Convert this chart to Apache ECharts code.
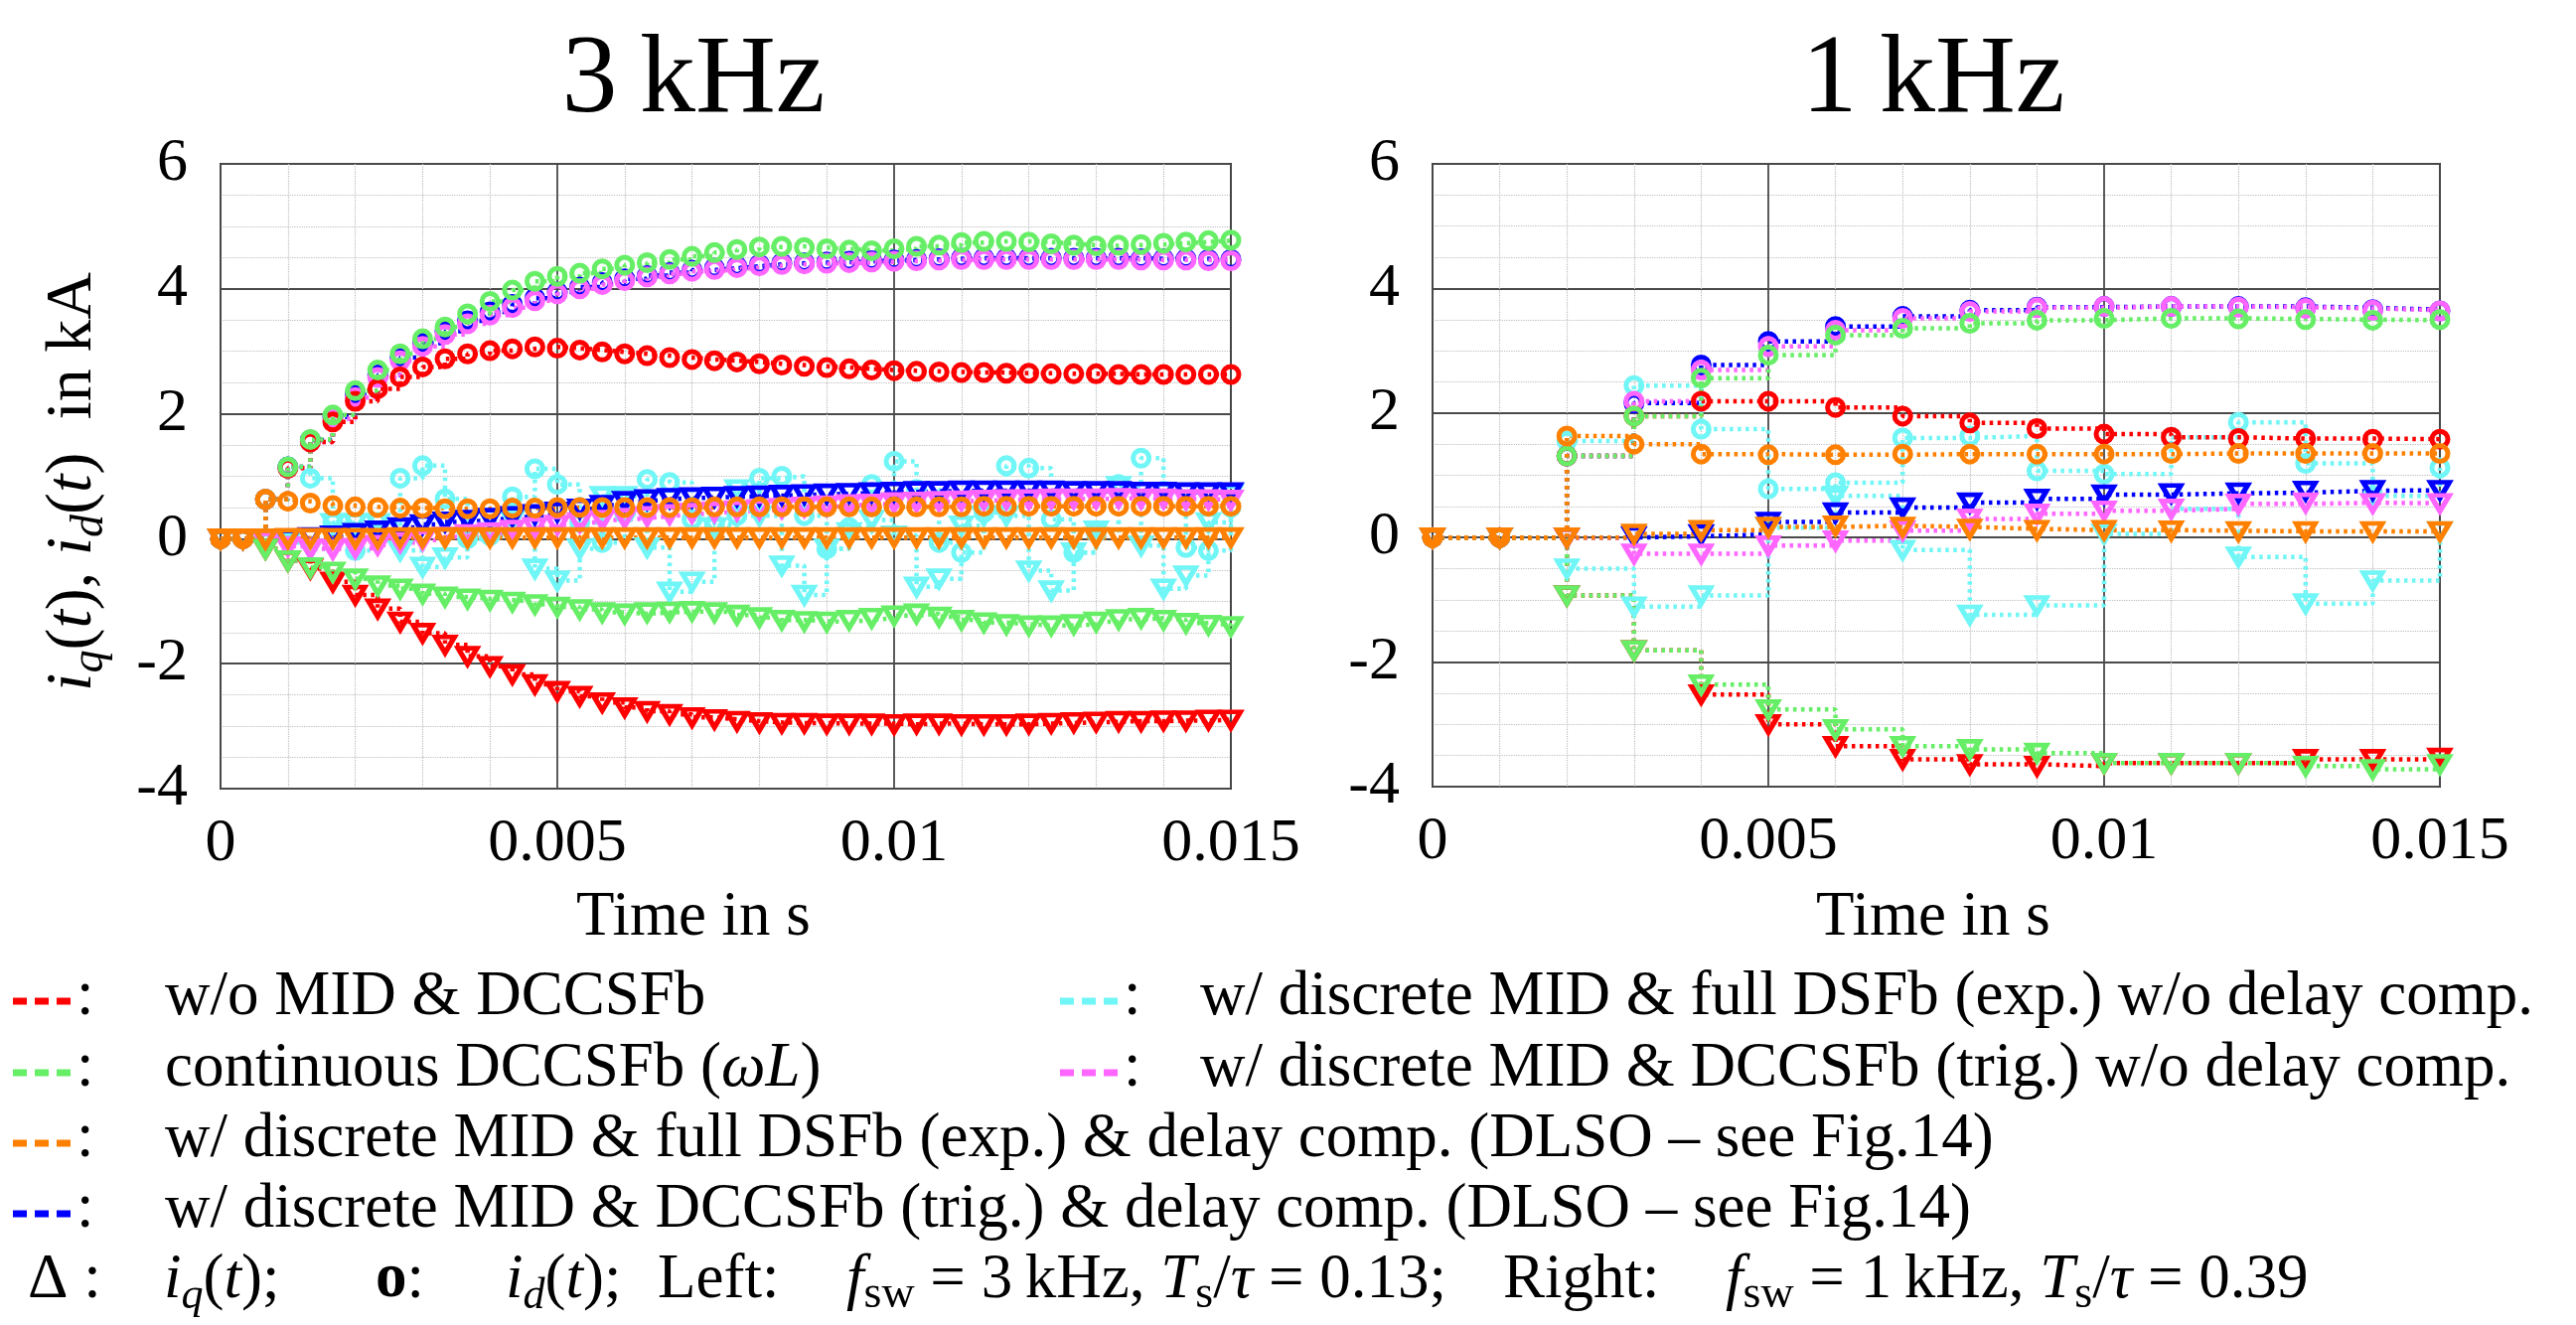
<!DOCTYPE html>
<html>
<head>
<meta charset="utf-8">
<title>i_q / i_d step responses, 3 kHz vs 1 kHz</title>
<script src="https://cdn.jsdelivr.net/npm/echarts@6.0.0/dist/echarts.min.js"></script>
<style>
  html, body { margin: 0; padding: 0; background: #fff; }
  #chart { width: 2593px; height: 1334px; }
</style>
</head>
<body>
<div id="chart"></div>
<script>
// sample instants in s (left: fsw = 3 kHz, right: fsw = 1 kHz)
const timeLeft = [0, 0.000333, 0.000667, 0.001, 0.001333, 0.001667, 0.002, 0.002333, 0.002667, 0.003,
  0.003333, 0.003667, 0.004, 0.004333, 0.004667, 0.005, 0.005333, 0.005667, 0.006, 0.006333,
  0.006667, 0.007, 0.007333, 0.007667, 0.008, 0.008333, 0.008667, 0.009, 0.009333, 0.009667,
  0.01, 0.010333, 0.010667, 0.011, 0.011333, 0.011667, 0.012, 0.012333, 0.012667, 0.013,
  0.013333, 0.013667, 0.014, 0.014333, 0.014667, 0.015];
const timeRight = [0, 0.001, 0.002, 0.003, 0.004, 0.005, 0.006, 0.007, 0.008, 0.009, 0.01, 0.011, 0.012, 0.013, 0.014, 0.015];

const xTicks = [0, 0.005, 0.01, 0.015];
const yTicks = [-4, -2, 0, 2, 4, 6];

// ---- 3 kHz, values in kA ----
const redIdL = [0, 0, 0.63, 1.13, 1.55, 1.87, 2.2, 2.4, 2.59, 2.75,
  2.88, 2.96, 3.01, 3.04, 3.07, 3.05, 3.02, 2.99, 2.96, 2.93,
  2.9, 2.87, 2.85, 2.83, 2.8, 2.78, 2.76, 2.74, 2.72, 2.7,
  2.69, 2.68, 2.67, 2.66, 2.66, 2.65, 2.65, 2.64, 2.64, 2.64,
  2.63, 2.63, 2.63, 2.63, 2.63, 2.63];
const redIqL = [0, 0, -0.16, -0.35, -0.48, -0.69, -0.9, -1.12, -1.33, -1.51,
  -1.7, -1.88, -2.04, -2.17, -2.33, -2.44, -2.52, -2.62, -2.7, -2.76,
  -2.81, -2.86, -2.89, -2.92, -2.94, -2.95, -2.95, -2.96, -2.96, -2.96,
  -2.97, -2.96, -2.96, -2.97, -2.97, -2.97, -2.96, -2.95, -2.94, -2.93,
  -2.92, -2.92, -2.91, -2.91, -2.9, -2.9];
const greenIdL = [0, 0, 0.63, 1.15, 1.59, 1.98, 2.37, 2.7, 2.96, 3.2,
  3.39, 3.6, 3.8, 3.98, 4.12, 4.2, 4.25, 4.32, 4.38, 4.42,
  4.47, 4.52, 4.58, 4.63, 4.67, 4.68, 4.66, 4.64, 4.62, 4.61,
  4.64, 4.68, 4.7, 4.74, 4.76, 4.76, 4.75, 4.72, 4.7, 4.69,
  4.7, 4.71, 4.73, 4.75, 4.77, 4.78];
const greenIqL = [0, 0, -0.16, -0.35, -0.46, -0.53, -0.64, -0.75, -0.8, -0.88,
  -0.93, -0.96, -0.98, -1.01, -1.05, -1.09, -1.13, -1.18, -1.2, -1.18,
  -1.17, -1.16, -1.18, -1.22, -1.26, -1.3, -1.32, -1.33, -1.3, -1.27,
  -1.23, -1.2, -1.25, -1.3, -1.34, -1.37, -1.39, -1.39, -1.37, -1.33,
  -1.29, -1.27, -1.3, -1.35, -1.38, -1.4];
const orangeIdL = [0, 0, 0.63, 0.6, 0.57, 0.53, 0.51, 0.5, 0.49, 0.49,
  0.48, 0.48, 0.48, 0.49, 0.49, 0.5, 0.5, 0.5, 0.5, 0.5,
  0.5, 0.5, 0.51, 0.51, 0.51, 0.51, 0.51, 0.51, 0.51, 0.51,
  0.51, 0.51, 0.51, 0.51, 0.52, 0.52, 0.52, 0.52, 0.52, 0.52,
  0.52, 0.52, 0.52, 0.52, 0.52, 0.52];
const orangeIqL = [0, 0, 0, 0.01, 0.01, 0.01, 0.01, 0.01, 0.02, 0.02,
  0.02, 0.02, 0.02, 0.02, 0.02, 0.02, 0.02, 0.02, 0.02, 0.02,
  0.02, 0.02, 0.02, 0.02, 0.02, 0.02, 0.02, 0.02, 0.02, 0.02,
  0.02, 0.02, 0.02, 0.02, 0.02, 0.02, 0.02, 0.02, 0.02, 0.02,
  0.02, 0.02, 0.02, 0.02, 0.02, 0.02];
const blueIdL = [0, 0, 0.63, 1.15, 1.58, 1.95, 2.3, 2.62, 2.9, 3.13,
  3.32, 3.49, 3.63, 3.75, 3.85, 3.95, 4.03, 4.1, 4.16, 4.21,
  4.26, 4.3, 4.33, 4.36, 4.39, 4.41, 4.42, 4.43, 4.44, 4.45,
  4.46, 4.47, 4.48, 4.49, 4.49, 4.49, 4.49, 4.49, 4.49, 4.49,
  4.49, 4.48, 4.48, 4.48, 4.47, 4.47];
const blueIqL = [0, 0, 0, 0, 0.02, 0.05, 0.09, 0.13, 0.18, 0.23,
  0.27, 0.3, 0.33, 0.36, 0.39, 0.43, 0.48, 0.54, 0.6, 0.63,
  0.65, 0.66, 0.67, 0.68, 0.69, 0.7, 0.71, 0.72, 0.73, 0.74,
  0.75, 0.76, 0.76, 0.77, 0.77, 0.77, 0.77, 0.77, 0.76, 0.76,
  0.76, 0.75, 0.75, 0.74, 0.74, 0.74];
const cyanIdL = [0, 0, 0.63, 1.15, 0.97, 0.26, -0.19, 0.26, 0.97, 1.17,
  0.64, 0.0, 0.05, 0.67, 1.12, 0.87, 0.26, -0.06, 0.4, 0.95,
  0.9, 0.31, 0.23, 0.37, 0.97, 1.0, 0.37, -0.16, 0.18, 0.87,
  1.24, 0.79, -0.06, -0.22, 0.42, 1.17, 1.13, 0.31, -0.22, 0.1,
  0.87, 1.29, 0.76, -0.14, -0.19, 0.5];
const cyanIqL = [0, 0, -0.06, -0.06, -0.16, 0.25, 0.25, 0.25, -0.19, -0.45,
  -0.3, 0.0, 0.1, 0.3, -0.48, -0.67, -0.16, 0.68, 0.68, -0.14,
  -0.85, -0.69, 0.18, 0.79, 0.37, -0.43, -0.9, -0.16, 0.1, 0.3,
  0.05, -0.77, -0.64, 0.21, 0.37, 0.37, -0.51, -0.83, -0.22, 0.13,
  0.84, -0.11, -0.8, -0.59, 0.26, 0.71];
const magentaIdL = [0, 0, 0.63, 1.13, 1.55, 1.92, 2.26, 2.58, 2.85, 3.08,
  3.27, 3.44, 3.58, 3.7, 3.81, 3.92, 4.0, 4.07, 4.13, 4.19,
  4.24, 4.28, 4.31, 4.34, 4.37, 4.39, 4.4, 4.41, 4.42, 4.43,
  4.44, 4.45, 4.46, 4.47, 4.47, 4.47, 4.47, 4.47, 4.47, 4.47,
  4.47, 4.46, 4.46, 4.46, 4.45, 4.45];
const magentaIqL = [0, 0, -0.05, -0.12, -0.16, -0.17, -0.15, -0.1, -0.06, -0.02,
  0.03, 0.07, 0.1, 0.14, 0.18, 0.22, 0.26, 0.3, 0.33, 0.36,
  0.39, 0.41, 0.43, 0.45, 0.47, 0.49, 0.51, 0.53, 0.55, 0.56,
  0.58, 0.59, 0.6, 0.61, 0.62, 0.63, 0.63, 0.64, 0.64, 0.64,
  0.65, 0.64, 0.64, 0.63, 0.63, 0.62];

// ---- 1 kHz, values in kA ----
const redIdR = [0, 0, 1.31, 1.95, 2.19, 2.19, 2.09, 1.95, 1.84, 1.75, 1.66, 1.61, 1.59, 1.59, 1.58, 1.58];
const redIqR = [0, 0, -0.93, -1.81, -2.52, -3.0, -3.35, -3.56, -3.64, -3.67, -3.62, -3.62, -3.62, -3.56, -3.56, -3.54];
const greenIdR = [0, 0, 1.31, 1.95, 2.56, 2.93, 3.25, 3.36, 3.44, 3.49, 3.52, 3.52, 3.51, 3.5, 3.49, 3.5];
const greenIqR = [0, 0, -0.93, -1.81, -2.36, -2.76, -3.08, -3.35, -3.4, -3.46, -3.62, -3.62, -3.62, -3.67, -3.72, -3.64];
const orangeIdR = [0, 0, 1.63, 1.5, 1.34, 1.33, 1.33, 1.34, 1.34, 1.34, 1.34, 1.35, 1.35, 1.35, 1.35, 1.35];
const orangeIqR = [0, 0, 0, 0.06, 0.12, 0.17, 0.19, 0.17, 0.14, 0.12, 0.12, 0.11, 0.1, 0.1, 0.1, 0.1];
const blueIdR = [0, 0, 1.31, 2.16, 2.77, 3.15, 3.39, 3.55, 3.65, 3.7, 3.71, 3.71, 3.71, 3.69, 3.66, 3.64];
const blueIqR = [0, 0, 0, 0.02, 0.05, 0.25, 0.4, 0.48, 0.56, 0.62, 0.69, 0.71, 0.72, 0.75, 0.76, 0.76];
const cyanIdR = [0, 0, 1.55, 2.44, 1.74, 0.78, 0.88, 1.6, 1.63, 1.07, 1.02, 1.61, 1.85, 1.19, 0.67, 1.12];
const cyanIqR = [0, 0, -0.5, -1.11, -0.93, 0.16, 0.67, -0.2, -1.24, -1.09, 0.06, 0.46, -0.31, -1.06, -0.69, 0.1];
const magentaIdR = [0, 0, 1.31, 2.19, 2.69, 3.07, 3.33, 3.52, 3.63, 3.69, 3.71, 3.71, 3.7, 3.68, 3.65, 3.64];
const magentaIqR = [0, 0, 0, -0.26, -0.26, -0.13, -0.05, 0.11, 0.3, 0.38, 0.43, 0.46, 0.54, 0.56, 0.55, 0.55];

const COLORS = {
  red: '#ff0000', green: '#66ee66', orange: '#ff8000',
  blue: '#0000ff', cyan: '#70f6f6', magenta: '#ff66ff'
};
const FONT = "'Liberation Serif', 'Times New Roman', serif";

// draw order: later ones on top
const leftSets = [
  ['cyan', cyanIdL, cyanIqL], ['blue', blueIdL, blueIqL], ['magenta', magentaIdL, magentaIqL],
  ['red', redIdL, redIqL], ['green', greenIdL, greenIqL], ['orange', orangeIdL, orangeIqL]
];
const rightSets = [
  ['cyan', cyanIdR, cyanIqR], ['blue', blueIdR, blueIqR], ['magenta', magentaIdR, magentaIqR],
  ['red', redIdR, redIqR], ['green', greenIdR, greenIqR], ['orange', orangeIdR, orangeIqR]
];

function stepSeries(gi, times, vals, color, isIq) {
  return {
    type: 'line',
    xAxisIndex: gi,
    yAxisIndex: gi,
    data: times.map((t, k) => [t, vals[k]]),
    step: 'end',
    symbol: isIq ? 'triangle' : 'circle',
    symbolRotate: isIq ? 180 : 0,
    symbolSize: isIq ? [19, 16] : 16,
    showAllSymbol: true,
    silent: true,
    lineStyle: { color: color, width: 4.5, type: [3.5, 4.5], cap: 'butt' },
    itemStyle: { color: 'rgba(255,255,255,0)', borderColor: color, borderWidth: 5 },
    emphasis: { disabled: true }
  };
}

const series = [];
leftSets.forEach(s => {
  series.push(stepSeries(0, timeLeft, s[2], COLORS[s[0]], true));
  series.push(stepSeries(0, timeLeft, s[1], COLORS[s[0]], false));
});
rightSets.forEach(s => {
  series.push(stepSeries(1, timeRight, s[2], COLORS[s[0]], true));
  series.push(stepSeries(1, timeRight, s[1], COLORS[s[0]], false));
});

function xAx(gi) {
  return {
    type: 'value', gridIndex: gi,
    min: xTicks[0], max: xTicks[xTicks.length - 1], interval: xTicks[1] - xTicks[0],
    axisLine: { show: false }, axisTick: { show: false },
    axisLabel: { fontSize: 62, fontFamily: FONT, color: '#000', margin: 25 },
    splitLine: { show: true, lineStyle: { color: '#4a4a4a', width: 1.8 } },
    minorTick: { show: false, splitNumber: 5 },
    minorSplitLine: { show: true, lineStyle: { color: '#bdbdbd', width: 1.2, type: 'dotted' } }
  };
}
function yAx(gi) {
  return {
    type: 'value', gridIndex: gi,
    min: yTicks[0], max: yTicks[yTicks.length - 1], interval: yTicks[1] - yTicks[0],
    axisLine: { show: false }, axisTick: { show: false },
    axisLabel: { fontSize: 62, fontFamily: FONT, color: '#000', margin: 33 },
    splitLine: { show: true, lineStyle: { color: '#4a4a4a', width: 1.8 } },
    minorTick: { show: false, splitNumber: 4 },
    minorSplitLine: { show: true, lineStyle: { color: '#bdbdbd', width: 1.2, type: 'dotted' } }
  };
}

const RICH = {
  n: { fontSize: 63, fontFamily: FONT, lineHeight: 76, fill: '#000' },
  i: { fontSize: 63, fontFamily: FONT, fontStyle: 'italic', lineHeight: 76, fill: '#000' },
  b: { fontSize: 63, fontFamily: FONT, fontWeight: 'bold', lineHeight: 76, fill: '#000' },
  sub: { fontSize: 44, fontFamily: FONT, fontStyle: 'italic', lineHeight: 38, verticalAlign: 'bottom', fill: '#000' },
  subn: { fontSize: 46, fontFamily: FONT, lineHeight: 42, verticalAlign: 'bottom', fill: '#000' },
  yn: { fontSize: 66, fontFamily: FONT, lineHeight: 80, fill: '#000' },
  yi: { fontSize: 66, fontFamily: FONT, fontStyle: 'italic', lineHeight: 80, fill: '#000' },
  ysub: { fontSize: 46, fontFamily: FONT, fontStyle: 'italic', lineHeight: 40, verticalAlign: 'bottom', fill: '#000' }
};

function txt(x, y, text, extra) {
  return Object.assign({
    type: 'text', x: x, y: y, silent: true,
    style: { text: text, fontSize: 63, fontFamily: FONT, fill: '#000', align: 'left', verticalAlign: 'middle', rich: RICH }
  }, extra || {});
}
function dashKey(x, y, color) {
  return {
    type: 'line', silent: true,
    shape: { x1: x, y1: y + 4, x2: x + 58, y2: y + 4 },
    style: { stroke: color, lineWidth: 7, lineDash: [14, 8] }
  };
}

const legendRows = [
  { color: COLORS.red, kx: 13, tx: 166, y: 1004, text: '{n|w/o MID & DCCSFb}' },
  { color: COLORS.cyan, kx: 1067, tx: 1208, y: 1004, text: '{n|w/ discrete MID & full DSFb (exp.) w/o delay comp.}' },
  { color: COLORS.green, kx: 13, tx: 166, y: 1076, text: '{n|continuous DCCSFb (}{i|ωL}{n|)}' },
  { color: COLORS.magenta, kx: 1067, tx: 1208, y: 1076, text: '{n|w/ discrete MID & DCCSFb (trig.) w/o delay comp.}' },
  { color: COLORS.orange, kx: 13, tx: 166, y: 1147, text: '{n|w/ discrete MID & full DSFb (exp.) & delay comp. (DLSO – see Fig.14)}' },
  { color: COLORS.blue, kx: 13, tx: 166, y: 1218, text: '{n|w/ discrete MID & DCCSFb (trig.) & delay comp. (DLSO – see Fig.14)}' }
];

const titleStyle = t => ({ style: { text: t, fontSize: 112, fontFamily: FONT, fill: '#000', align: 'center', verticalAlign: 'middle' } });
const graphics = [
  txt(698, 83, '', titleStyle('3\u2009kHz')),
  txt(1946, 83, '', titleStyle('1\u2009kHz')),
  txt(698, 924, '', { style: { text: '{n|Time in s}', align: 'center', verticalAlign: 'middle', rich: RICH } }),
  txt(1946, 924, '', { style: { text: '{n|Time in s}', align: 'center', verticalAlign: 'middle', rich: RICH } }),
  {
    type: 'text', x: 74, y: 485, rotation: Math.PI / 2, silent: true,
    style: {
      text: '{yi|i}{ysub|q}{yn|(}{yi|t}{yn|), }{yi|i}{ysub|d}{yn|(}{yi|t}{yn|)  in kA}',
      align: 'center', verticalAlign: 'middle', rich: RICH
    }
  }
];
legendRows.forEach(r => {
  graphics.push(dashKey(r.kx, r.y, r.color));
  graphics.push(txt(r.kx + 64, r.y, '{n|:}'));
  graphics.push(txt(r.tx, r.y, r.text));
});
const footY = 1289;
graphics.push(txt(28, footY, '{n|Δ :}'));
graphics.push(txt(165, footY, '{i|i}{sub|q}{n|(}{i|t}{n|);}'));
graphics.push(txt(378, footY, '{b|o}{n|:}'));
graphics.push(txt(509, footY, '{i|i}{sub|d}{n|(}{i|t}{n|);}'));
graphics.push(txt(662, footY, '{n|Left:}'));
graphics.push(txt(852, footY, '{i|f}{subn|sw}{n| = 3\u2009kHz, }{i|T}{subn|s}{n|/}{i|τ}{n| = 0.13;}'));
graphics.push(txt(1513, footY, '{n|Right:}'));
graphics.push(txt(1737, footY, '{i|f}{subn|sw}{n| = 1\u2009kHz, }{i|T}{subn|s}{n|/}{i|τ}{n| = 0.39}'));

const chart = echarts.init(document.getElementById('chart'), null, { renderer: 'canvas' });
chart.setOption({
  backgroundColor: '#ffffff',
  animation: false,
  textStyle: { fontFamily: FONT },
  grid: [
    { left: 222, top: 165, width: 1017, height: 629, show: true, borderColor: '#333', borderWidth: 2, backgroundColor: '#fff' },
    { left: 1442, top: 165, width: 1014, height: 627, show: true, borderColor: '#333', borderWidth: 2, backgroundColor: '#fff' }
  ],
  xAxis: [xAx(0), xAx(1)],
  yAxis: [yAx(0), yAx(1)],
  series: series,
  graphic: graphics
});
</script>
</body>
</html>
